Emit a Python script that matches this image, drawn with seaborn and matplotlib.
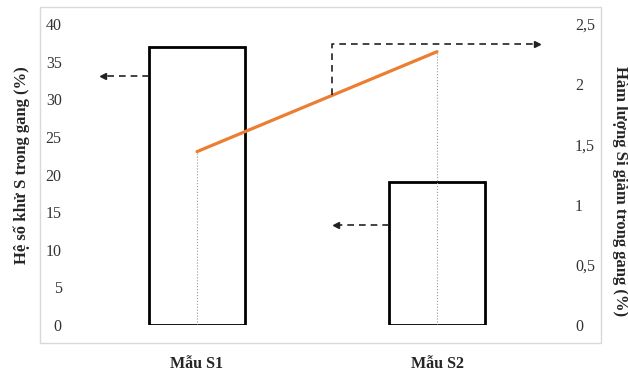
import matplotlib
matplotlib.use('Agg')
import matplotlib.pyplot as plt
import seaborn as sns
from matplotlib.patches import Rectangle

# Data
samples = ['Mẫu S1', 'Mẫu S2']
s_removal = [37, 19]          # left axis, bars (%)
si_drop = [1.44, 2.27]        # right axis, orange line (%)
left_ticks = [0, 5, 10, 15, 20, 25, 30, 35, 40]
right_ticks = [0, 0.5, 1, 1.5, 2, 2.5]
right_labels = ['0', '0,5', '1', '1,5', '2', '2,5']

sns.set_style('white')
plt.rcParams['font.family'] = ['Liberation Serif', 'DejaVu Serif']

fig = plt.figure(figsize=(6.28, 3.75), dpi=100)
ax = fig.add_axes([0.1226, 0.1333, 0.7644, 0.8027])

# bars (left axis)
sns.barplot(x=samples, y=s_removal, ax=ax, fill=False, color='black',
            edgecolor='black', linewidth=2, width=0.4)
ax.set_xlim(-0.5, 1.5)
ax.set_ylim(0, 40)
ax.set_yticks(left_ticks)
ax.set_yticklabels([str(t) for t in left_ticks])
ax.tick_params(axis='y', length=0, pad=11, labelsize=11.5, labelcolor='#333333')
ax.tick_params(axis='x', length=0, pad=22, labelsize=11.5)
for lab in ax.get_xticklabels():
    lab.set_fontweight('bold')
ax.set_xlabel('')
ax.set_ylabel('')
sns.despine(ax=ax, left=True, bottom=True)

# line (right axis)
ax2 = ax.twinx()
sns.lineplot(x=[0, 1], y=si_drop, ax=ax2, color='#ED7D31', linewidth=2.3)
ax2.vlines([0, 1], 0, si_drop, colors='#999999', linestyles=':', linewidth=0.8)
ax2.set_ylim(0, 2.5)
ax2.set_yticks(right_ticks)
ax2.set_yticklabels(right_labels)
ax2.tick_params(axis='y', length=0, pad=13, labelsize=11.5, labelcolor='#333333')
ax2.set_ylabel('')
for sp in ax2.spines.values():
    sp.set_visible(False)
ax2.set_xlim(-0.5, 1.5)

# dashed pointer arrows
dash = dict(color='#222222', linestyle=(0, (4, 3)), linewidth=1.2)
ax.plot([-0.2, -0.39], [33.1, 33.1], **dash)
ax.plot([-0.39], [33.1], marker='<', color='#222222', markersize=5)
ax.plot([0.8, 0.58], [13.3, 13.3], **dash)
ax.plot([0.58], [13.3], marker='<', color='#222222', markersize=5)
x_turn = 0.5625
y_on_line = si_drop[0] + x_turn * (si_drop[1] - si_drop[0])
ax2.plot([x_turn, x_turn, 1.415], [y_on_line, 2.334, 2.334], **dash)
ax2.plot([1.415], [2.334], marker='>', color='#222222', markersize=5)

# axis titles
fig.text(22 / 628, 1 - 165 / 375, 'Hệ số khử S trong gang (%)', rotation=90,
         ha='center', va='center', fontsize=12, fontweight='bold')
fig.text(620 / 628, 1 - 191 / 375, 'Hàm lượng Si giảm trong gang (%)', rotation=270,
         ha='center', va='center', fontsize=12, fontweight='bold')

# light outer frame
fig.patches.append(Rectangle((40 / 628, 1 - 343 / 375), 561 / 628, 336 / 375,
                             transform=fig.transFigure, fill=False,
                             edgecolor='#d9d9d9', linewidth=1))

fig.savefig('out.png', dpi=100)
